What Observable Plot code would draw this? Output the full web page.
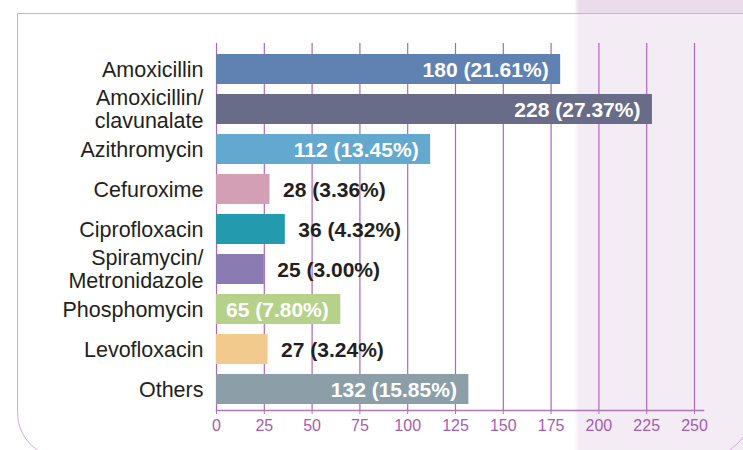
<!DOCTYPE html>
<html>
<head>
<meta charset="utf-8">
<script src="https://cdn.jsdelivr.net/npm/d3@7"></script>
<script src="https://cdn.jsdelivr.net/npm/@observablehq/plot@0.6"></script>
<style>
  html, body { margin: 0; padding: 0; background: #ffffff; }
  #wrap { position: relative; width: 743px; height: 450px; overflow: hidden; background: #ffffff; }
  .lav { position: absolute; left: 574px; top: 0; width: 169px; height: 450px;
         background: linear-gradient(to right, #ffffff 0px, #f3ecf4 5px, #f3ecf4 100%); }
  .lavtop { position: absolute; left: 574px; top: 0; width: 169px; height: 13px;
         background: linear-gradient(to right, #ffffff 0px, #eadcea 5px, #eadcea 100%); }
  .frame { position: absolute; left: 16.5px; top: 12.5px; width: 735px; height: 445px;
           border: 1.5px solid #d3abd8; border-radius: 0 0 48px 45px; box-sizing: border-box; }
  #chart { position: absolute; left: 0; top: 0; }
</style>
</head>
<body>
<div id="wrap">
  <div class="lav"></div>
  <div class="lavtop"></div>
  <div class="frame"></div>
  <div id="chart"></div>
</div>
<script>
const drugs = ["Amoxicillin", "Amoxicillin/\nclavunalate", "Azithromycin", "Cefuroxime", "Ciprofloxacin", "Spiramycin/\nMetronidazole", "Phosphomycin", "Levofloxacin", "Others"];
const counts = [180, 228, 112, 28, 36, 25, 65, 27, 132];
const percents = ["21.61", "27.37", "13.45", "3.36", "4.32", "3.00", "7.80", "3.24", "15.85"];
const colors = ["#5f82b3", "#686c89", "#62a8cf", "#d39fb4", "#249aaf", "#8a7cb3", "#b5d18a", "#f2ca8e", "#8c9fa9"];
const xTicks = [0, 25, 50, 75, 100, 125, 150, 175, 200, 225, 250];

const data = drugs.map((drug, i) => ({drug, count: counts[i], label: `${counts[i]} (${percents[i]}%)`}));
const inside = data.filter(d => d.count > 50);
const outside = data.filter(d => d.count <= 50);

const font = "'Liberation Sans', Arial, Helvetica, sans-serif";

const chart = Plot.plot({
  width: 743,
  height: 450,
  marginLeft: 216,
  marginRight: 49,
  marginTop: 43,
  marginBottom: 40,
  style: {background: "transparent", fontFamily: font, overflow: "visible"},
  x: {domain: [0, 250], label: null},
  y: {domain: drugs, label: null, paddingInner: 0.242, paddingOuter: 0.152, align: 0.65},
  color: {domain: drugs, range: colors},
  marks: [
    Plot.gridX(xTicks, {stroke: "#b064be", strokeOpacity: 1, strokeWidth: 1.2}),
    Plot.barX(data, {x: "count", y: "drug", fill: "drug"}),
    Plot.frame({anchor: "bottom", stroke: "#ad78b5", strokeWidth: 1.5, insetRight: -9}),
    Plot.axisX(xTicks, {tickSize: 4, tickPadding: 5, fontSize: 16, fill: "#a45cb1", stroke: "#ad78b5", label: null}),
    Plot.axisY({tickSize: 0, tickPadding: 13, fontSize: 21.5, lineHeight: 1.07, fill: "#231f20", label: null}),
    Plot.text(inside, {x: "count", y: "drug", text: "label", textAnchor: "end", dx: -12, dy: 1, fill: "#ffffff", fontWeight: "bold", fontSize: 21}),
    Plot.text(outside, {x: "count", y: "drug", text: "label", textAnchor: "start", dx: 13, dy: 1, fill: "#231f20", fontWeight: "bold", fontSize: 21})
  ]
});
document.getElementById("chart").appendChild(chart);
</script>
</body>
</html>
